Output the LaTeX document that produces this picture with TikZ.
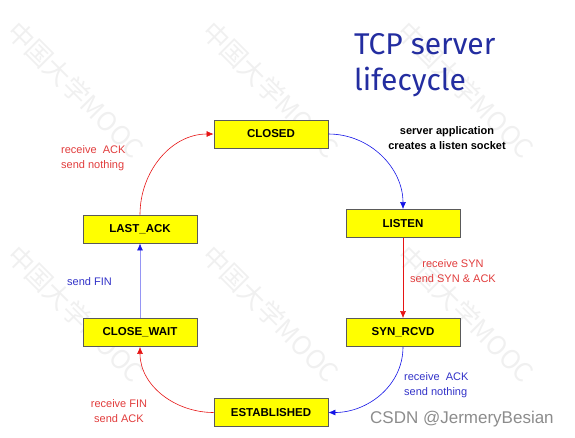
\documentclass[tikz,border=0pt]{standalone}
\usepackage{fontspec}
\setmainfont{Liberation Sans}
\newfontfamily\cjkwm{Noto Sans CJK SC}
\newfontfamily\titlefont{Fira Sans}
\usetikzlibrary{arrows.meta}
\definecolor{boxyellow}{RGB}{255,255,0}
\definecolor{boxborder}{RGB}{90,90,90}
\definecolor{arrred}{RGB}{230,20,20}
\definecolor{arrblue}{RGB}{20,20,230}
\definecolor{lblred}{RGB}{225,60,60}
\definecolor{lblblue}{RGB}{50,50,200}
\definecolor{titleblue}{RGB}{35,45,160}
\definecolor{wmgray}{RGB}{240,240,240}
\tikzset{
  state/.style={draw=boxborder, line width=0.8pt, fill=boxyellow, minimum width=114pt, minimum height=28pt, inner sep=0pt, font=\fontsize{11.5}{12}\selectfont\bfseries},
  redarr/.style={draw=arrred, line width=0.6pt, -{Latex[length=7pt,width=6pt]}},
  bluearr/.style={draw=arrblue, line width=0.6pt, -{Latex[length=7pt,width=6pt]}},
  lbl/.style={font=\fontsize{11}{15}\selectfont, align=center, inner sep=0pt},
  wm/.style={font=\cjkwm\fontsize{26}{26}\selectfont, text=wmgray, rotate=-45, anchor=west, inner sep=0pt},
  ttl/.style={anchor=base west, inner sep=0pt, text=titleblue, font=\titlefont\fontsize{30}{36}\selectfont},
}
\begin{document}
\begin{tikzpicture}[x=1pt,y=-1pt]
\useasboundingbox (0,0) rectangle (575,437);
% watermarks
\node[wm] (w1) at (12,26) {中国大学MOOC};
\node[wm] (w2) at (207,26) {中国大学MOOC};
\node[wm] (w3) at (402,26) {中国大学MOOC};
\node[wm] (w4) at (12,250) {中国大学MOOC};
\node[wm] (w5) at (207,250) {中国大学MOOC};
\node[wm] (w6) at (402,250) {中国大学MOOC};
% title
\node[ttl] (title1) at (354,54) {TCP server};
\node[ttl] (title2) at (354,90) {lifecycle};
% states
\node[state] (closed) at (271,134) {CLOSED};
\node[state] (listen) at (403,223.5) {LISTEN};
\node[state] (synrcvd) at (403,332.5) {SYN\_RCVD};
\node[state] (estab) at (271,412.5) {ESTABLISHED};
\node[state] (closewait) at (140,332.5) {CLOSE\_WAIT};
\node[state] (lastack) at (140,229) {LAST\_ACK};
% connectors
\draw[bluearr] (closed.east) to[out=0,in=90] (listen.north);
\draw[redarr] (listen.south) -- (synrcvd.north);
\draw[bluearr] (synrcvd.south) to[out=-90,in=0] (estab.east);
\draw[redarr] (estab.west) to[out=180,in=-90] (closewait.south);
\draw[draw=arrblue!45, line width=0.8pt, -{Latex[length=7pt,width=6pt,fill=arrblue,color=arrblue]}] (closewait.north) -- (lastack.south);
\draw[redarr] (lastack.north) to[out=90,in=180] (closed.west);
% labels
\node[lbl, font=\fontsize{11}{15}\selectfont\bfseries] (l1) at (447,138) {server application\\creates a listen socket};
\node[lbl, text=lblred] (l2) at (453,271.5) {receive SYN\\send SYN \& ACK};
\node[lbl, text=lblblue, align=left, anchor=west] (l3) at (404,385) {receive\ \ ACK\\send nothing};
\node[lbl, text=lblred] (l4) at (119,411.5) {receive FIN\\send ACK};
\node[lbl, text=lblblue, anchor=west] (l5) at (67,282) {send FIN};
\node[lbl, text=lblred, align=left, anchor=west] (l6) at (61,158) {receive\ \ ACK\\send nothing};
% csdn
\node[anchor=base west, inner sep=0pt, text=black!45, font=\fontsize{17}{18}\selectfont] (csdn) at (370,423) {CSDN @JermeryBesian};
\end{tikzpicture}
\end{document}
